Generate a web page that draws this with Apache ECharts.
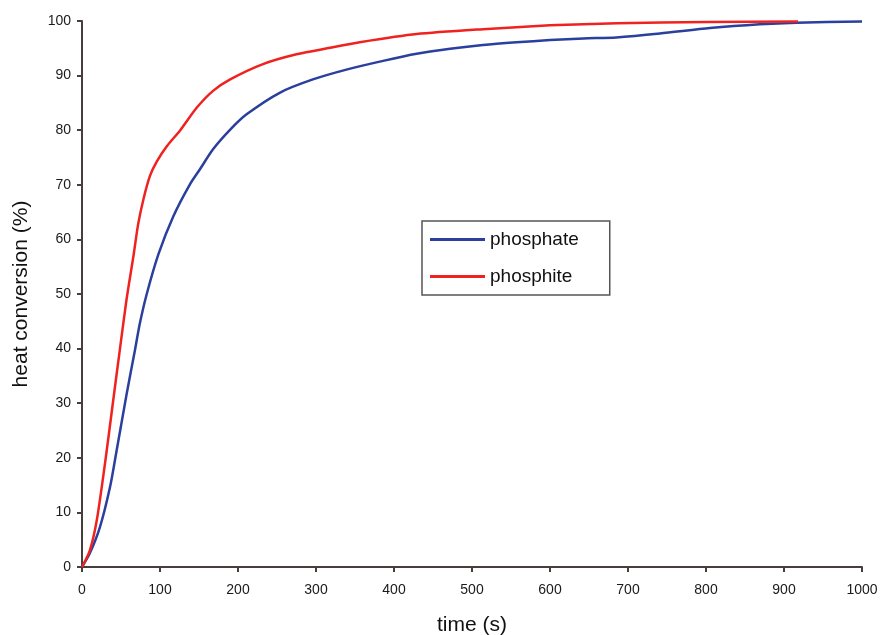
<!DOCTYPE html>
<html>
<head>
<meta charset="utf-8">
<script src="https://cdn.jsdelivr.net/npm/echarts@6/dist/echarts.min.js"></script>
<style>
  html, body { margin: 0; padding: 0; background: #fff; }
  #chart { width: 881px; height: 635px; }
</style>
</head>
<body>
<div id="chart"></div>
<script>
// 读图得到的数据 (time s, heat conversion %)
const phosphateTime = [0, 10, 23, 36, 44, 57, 68, 74, 83, 98, 117, 138, 151, 168, 190, 211, 254, 296, 339, 386, 429, 472, 514, 557, 600, 643, 685, 741, 805, 869, 916, 1000]
const phosphateConv = [0, 2.5, 7.3, 14.7, 21, 31.5, 39.8, 44.5, 50, 57.3, 64.2, 70, 72.8, 76.5, 80.1, 82.9, 86.9, 89.3, 91.1, 92.7, 94.0, 94.9, 95.6, 96.1, 96.5, 96.8, 97.0, 97.7, 98.7, 99.4, 99.7, 99.9]

const phosphiteTime = [0, 10, 19, 30, 40, 48.7, 57, 66, 72, 79, 87, 96, 109, 126, 147, 168, 190, 232, 275, 318, 356, 429, 514, 600, 686, 800, 918]
const phosphiteConv = [0, 3, 8.6, 19.5, 30.5, 40, 48.9, 57, 62.8, 67.5, 71.6, 74.3, 77.1, 80, 84.1, 87.2, 89.3, 92.1, 93.9, 95.1, 96.1, 97.6, 98.5, 99.2, 99.6, 99.8, 99.9]

const seriesNames = ['phosphate', 'phosphite']

const zip = (xs, ys) => xs.map((x, i) => [x, ys[i]])

const axisColor = '#463e3c'
const fontFamily = 'Liberation Sans, Arial, sans-serif'

const chart = echarts.init(document.getElementById('chart'))

const option = {
  backgroundColor: '#fff',
  animation: false,
  grid: {
    left: 82,
    right: 19,
    top: 21,
    bottom: 68,
    outerBoundsMode: 'none'  // 固定绘图区，不随标签自动收缩
  },
  legend: {
    data: seriesNames,
    orient: 'vertical',
    left: 422,
    top: 221,
    icon: 'rect',
    padding: [9, 31, 9, 8],
    itemGap: 18,
    itemWidth: 55,
    itemHeight: 3,
    borderColor: '#555',
    borderWidth: 1.5,
    borderRadius: 0,
    textStyle: {
      fontFamily: fontFamily,
      fontSize: 19,
      color: '#111'
    }
  },
  xAxis: {
    type: 'value',
    min: 0,
    max: 1000,
    interval: 100,
    name: 'time (s)',
    nameLocation: 'middle',
    nameGap: 48,
    nameTextStyle: { fontFamily: fontFamily, fontSize: 21, color: '#111' },
    splitLine: { show: false },
    axisLine: { show: true, onZero: false, lineStyle: { color: axisColor, width: 2 } },
    axisTick: { show: true, inside: false, length: 5, lineStyle: { color: axisColor, width: 2 } },
    axisLabel: {
      fontFamily: fontFamily, fontSize: 14, color: '#1a1a1a', margin: 16,
      formatter: (v) => String(v)
    }
  },
  yAxis: {
    type: 'value',
    min: 0,
    max: 100,
    interval: 10,
    name: 'heat conversion (%)',
    nameLocation: 'middle',
    nameGap: 50,
    nameTextStyle: { fontFamily: fontFamily, fontSize: 21, color: '#111' },
    splitLine: { show: false },
    axisLine: { show: true, onZero: false, lineStyle: { color: axisColor, width: 2 } },
    axisTick: { show: true, inside: false, length: 5, lineStyle: { color: axisColor, width: 2 } },
    axisLabel: { fontFamily: fontFamily, fontSize: 14, color: '#1a1a1a', margin: 11 }
  },
  series: [
    {
      name: 'phosphate',
      type: 'line',
      data: zip(phosphateTime, phosphateConv),
      smooth: 0.25,
      symbol: 'none',
      lineStyle: { color: '#2b3f9e', width: 2.5 },
      itemStyle: { color: '#2b3f9e' }
    },
    {
      name: 'phosphite',
      type: 'line',
      data: zip(phosphiteTime, phosphiteConv),
      smooth: 0.25,
      symbol: 'none',
      lineStyle: { color: '#f0221f', width: 2.5 },
      itemStyle: { color: '#f0221f' }
    }
  ]
}

chart.setOption(option)
</script>
</body>
</html>
